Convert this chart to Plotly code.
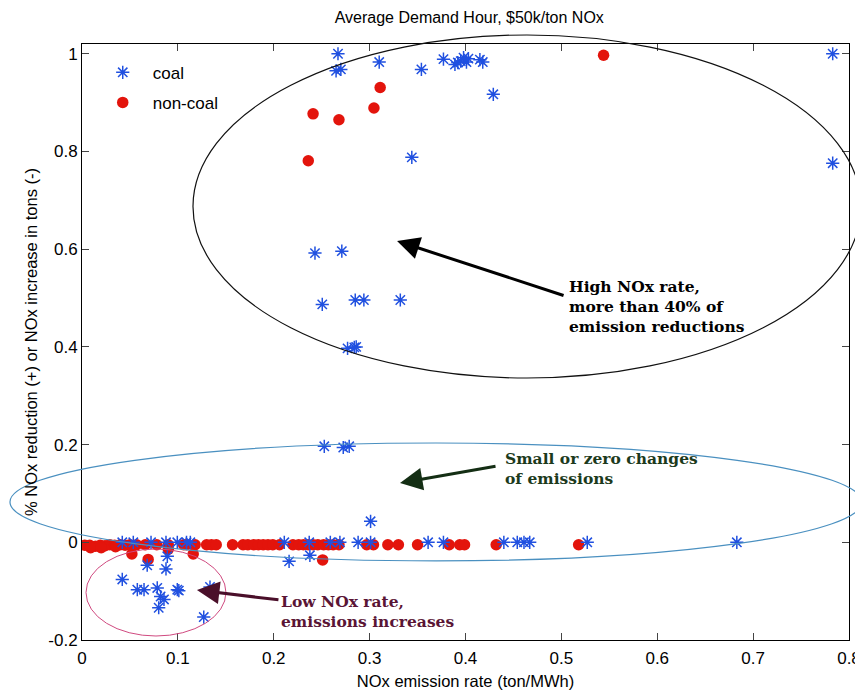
import plotly.graph_objects as go

# ---- data ----
coal_x = [0.267, 0.265, 0.270, 0.310, 0.354, 0.377, 0.389, 0.392, 0.395, 0.398, 0.401, 0.403, 0.415, 0.418, 0.429, 0.344, 0.783, 0.783,
          0.243, 0.271, 0.2506, 0.285, 0.294, 0.332, 0.277, 0.284, 0.286,
          0.2527, 0.2725, 0.2787, 0.301,
          0.042, 0.0577, 0.0647, 0.0785, 0.082, 0.0855, 0.080, 0.0994, 0.101, 0.1335, 0.127, 0.068, 0.0876, 0.089, 0.216, 0.2377,
          0.042, 0.0535, 0.072, 0.0876, 0.0994, 0.109, 0.113, 0.211, 0.237, 0.259, 0.269, 0.288, 0.301, 0.361, 0.377, 0.440, 0.454, 0.461, 0.467, 0.527, 0.683]
coal_y = [1.000, 0.965, 0.968, 0.983, 0.968, 0.989, 0.978, 0.982, 0.985, 0.992, 0.983, 0.990, 0.988, 0.983, 0.917, 0.788, 1.000, 0.776,
          0.592, 0.596, 0.487, 0.496, 0.496, 0.496, 0.397, 0.399, 0.400,
          0.1965, 0.194, 0.1965, 0.043,
          -0.076, -0.097, -0.097, -0.0935, -0.111, -0.117, -0.134, -0.097, -0.099, -0.0915, -0.153, -0.047, -0.0546, -0.0287, -0.039, -0.0266,
          0.0, 0.0, 0.0, 0.0, 0.0, 0.0, 0.0, 0.0, 0.0, 0.0, 0.0, 0.0, 0.0, 0.0, 0.0, 0.0, 0.0, 0.0, 0.0, 0.0, 0.0]

noncoal_x = [0.311, 0.3045, 0.241, 0.268, 0.236, 0.544,
             0.003, 0.008, 0.014, 0.019, 0.024, 0.029, 0.034, 0.040, 0.045, 0.050, 0.057, 0.066, 0.078, 0.090, 0.106, 0.109, 0.118,
             0.130, 0.135, 0.140, 0.157, 0.168, 0.173, 0.179, 0.184, 0.189, 0.194, 0.199, 0.206, 0.220, 0.226, 0.231, 0.236, 0.241,
             0.246, 0.252, 0.257, 0.262, 0.268, 0.297, 0.304, 0.319, 0.330, 0.350, 0.383, 0.394, 0.399, 0.432, 0.518,
             0.052, 0.069, 0.090, 0.116, 0.251, 0.009, 0.020, 0.035]
noncoal_y = [0.931, 0.889, 0.877, 0.865, 0.781, 0.997,
             -0.006, -0.006, -0.008, -0.006, -0.007, -0.005, -0.006, -0.005, -0.006, -0.005, -0.005, -0.005, -0.005, -0.005, -0.005, -0.005, -0.005,
             -0.005, -0.005, -0.005, -0.005, -0.005, -0.005, -0.005, -0.005, -0.005, -0.005, -0.005, -0.005, -0.005, -0.005, -0.005, -0.005, -0.005,
             -0.005, -0.005, -0.005, -0.005, -0.005, -0.005, -0.005, -0.005, -0.005, -0.005, -0.005, -0.005, -0.005, -0.005, -0.005,
             -0.024, -0.035, -0.014, -0.024, -0.036, -0.011, -0.011, -0.009]

x_ticks = [0, 0.1, 0.2, 0.3, 0.4, 0.5, 0.6, 0.7, 0.8]
x_tick_labels = ["0", "0.1", "0.2", "0.3", "0.4", "0.5", "0.6", "0.7", "0.8"]
y_ticks = [-0.2, 0, 0.2, 0.4, 0.6, 0.8, 1]
y_tick_labels = ["-0.2", "0", "0.2", "0.4", "0.6", "0.8", "1"]

FONT = "Liberation Sans, Arial, sans-serif"
SERIF = "DejaVu Serif, serif"

fig = go.Figure()
fig.add_trace(go.Scatter(
    x=noncoal_x, y=noncoal_y, mode="markers", name="non-coal", legendrank=2, legendgroup="noncoal",
    marker=dict(symbol="circle", size=11.5, color="#e3140c", line=dict(width=0)),
))
fig.add_trace(go.Scatter(
    x=coal_x, y=coal_y, mode="markers", name="coal", legendrank=1, legendgroup="coal",
    marker=dict(symbol="asterisk-open", size=11, color="#2050e0",
                line=dict(width=1.5, color="#2050e0")),
))

shapes = [
    dict(type="circle", xref="paper", yref="paper", x0=0.1447, x1=1.0156, y0=0.4396, y1=1.0151,
         line=dict(color="#111111", width=1.2)),
    dict(type="circle", xref="paper", yref="paper", x0=-0.0939, x1=1.0169, y0=0.1326, y1=0.3305,
         line=dict(color="#4a90c0", width=1.2)),
    dict(type="circle", xref="paper", yref="paper", x0=0.0052, x1=0.1877, y0=0.0067, y1=0.1527,
         line=dict(color="#d04a80", width=1)),
]

annotations = [
    dict(x=0.3286, y=0.6168, xref="x", yref="y", ax=168, ay=55, showarrow=True,
         arrowhead=2, arrowsize=1.5, arrowwidth=3, arrowcolor="#000000", text=""),
    dict(x=0.3317, y=0.1214, xref="x", yref="y", ax=97, ay=-17, showarrow=True,
         arrowhead=2, arrowsize=1.5, arrowwidth=3, arrowcolor="#142e14", text=""),
    dict(x=0.1199, y=-0.0977, xref="x", yref="y", ax=83, ay=10, showarrow=True,
         arrowhead=2, arrowsize=1.5, arrowwidth=3, arrowcolor="#4a0f2a", text=""),
    dict(x=0.6323, y=0.5604, xref="paper", yref="paper", xanchor="left", yanchor="middle", align="left",
         showarrow=False, text="<b>High NOx rate,<br>more than 40% of<br>emission reductions</b>",
         font=dict(family=SERIF, size=15.5, color="#000000")),
    dict(x=0.5489, y=0.2878, xref="paper", yref="paper", xanchor="left", yanchor="middle", align="left",
         showarrow=False, text="<b>Small or zero changes<br>of emissions</b>",
         font=dict(family=SERIF, size=15.5, color="#1c3a1c")),
    dict(x=0.2568, y=0.047, xref="paper", yref="paper", xanchor="left", yanchor="middle", align="left",
         showarrow=False, text="<b>Low NOx rate,<br>emissions increases</b>",
         font=dict(family=SERIF, size=15.5, color="#5a1535")),
]

# page body has an 8px default margin, so the figure is 8px smaller on each side
fig.update_layout(
    width=855, height=684,
    margin=dict(l=74, r=14, t=36, b=52, autoexpand=False),
    paper_bgcolor="white", plot_bgcolor="white",
    font=dict(family=FONT, size=16, color="black"),
    title=dict(text="Average Demand Hour, $50k/ton NOx", x=0.5395, xanchor="center",
               y=0.9865, yanchor="middle", font=dict(family=FONT, size=16)),
    shapes=shapes,
    annotations=annotations,
    legend=dict(x=0.014, y=0.982, xanchor="left", yanchor="top", traceorder="grouped",
                tracegroupgap=5,
                bgcolor="rgba(255,255,255,0)", borderwidth=0, font=dict(size=17, family=FONT),
                itemwidth=50),
    showlegend=True,
)
fig.update_xaxes(range=[0, 0.8], tickvals=x_ticks, ticktext=x_tick_labels, ticks="inside", ticklen=7,
                 showline=True, linecolor="black", linewidth=1, mirror="ticks", showgrid=False,
                 zeroline=False, tickfont=dict(size=17), automargin=False, ticklabelstandoff=3,
                 title=dict(text="NOx emission rate (ton/MWh)", font=dict(size=16.5), standoff=8))
fig.update_yaxes(range=[-0.2, 1.02], tickvals=y_ticks, ticktext=y_tick_labels, ticks="inside", ticklen=7,
                 showline=True, linecolor="black", linewidth=1, mirror="ticks", showgrid=False,
                 zeroline=False, tickfont=dict(size=17), automargin=False,
                 title=dict(text="% NOx reduction (+) or NOx increase in tons (-)", font=dict(size=16.5), standoff=6))

fig.write_html("out.html",
               post_script="document.documentElement.style.overflow='hidden';document.body.style.overflow='hidden';")
